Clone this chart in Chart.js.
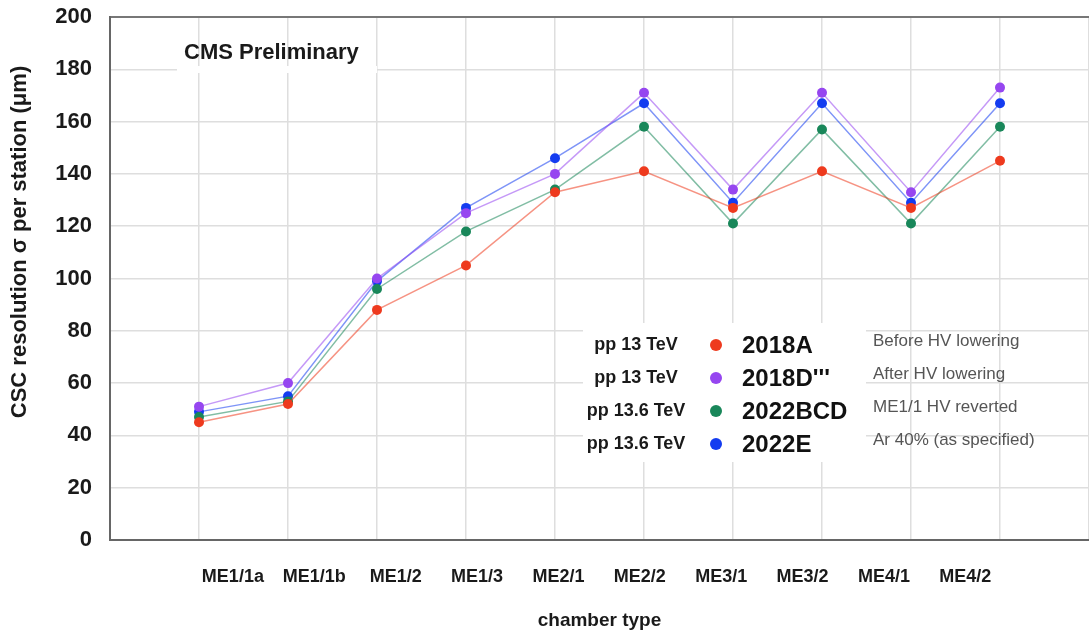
<!DOCTYPE html>
<html>
<head>
<meta charset="utf-8">
<script src="https://cdn.jsdelivr.net/npm/chart.js@4/dist/chart.umd.min.js"></script>
<style>
  html, body { margin: 0; padding: 0; background: #fff; }
  canvas { display: block; }
</style>
</head>
<body>
<canvas id="chart" width="1089" height="632"></canvas>
<script>
// Chamber types along the horizontal axis
const chambers = ['ME1/1a', 'ME1/1b', 'ME1/2', 'ME1/3', 'ME2/1', 'ME2/2', 'ME3/1', 'ME3/2', 'ME4/1', 'ME4/2'];

// CSC resolution per station (μm) for each run period
const res2018A   = [45, 52, 88, 105, 133, 141, 127, 141, 127, 145];
const res2018D   = [51, 60, 100, 125, 140, 171, 134, 171, 133, 173];
const res2022BCD = [47, 53, 96, 118, 134, 158, 121, 157, 121, 158];
const res2022E   = [49, 55, 99, 127, 146, 167, 129, 167, 129, 167];

const runNames = ['2018A', "2018D'''", '2022BCD', '2022E'];
const energies = ['pp 13 TeV', 'pp 13 TeV', 'pp 13.6 TeV', 'pp 13.6 TeV'];
const notes    = ['Before HV lowering', 'After HV lowering', 'ME1/1 HV reverted', 'Ar 40% (as specified)'];
const runColors = ['#ee3a1e', '#9646f0', '#19875a', '#143cf0'];

// Vertical axis range and step
const yMin = 0, yMax = 200, yStep = 20;

const FONT = '"Liberation Sans", Arial, Helvetica, sans-serif';
const series = [res2018A, res2018D, res2022BCD, res2022E];

const datasets = series.map((vals, k) => ({
  label: runNames[k],
  data: vals.map((v, i) => ({ x: i, y: v })),
  borderColor: runColors[k] + '8c',
  borderWidth: 1.5,
  backgroundColor: runColors[k],
  pointBackgroundColor: runColors[k],
  pointBorderWidth: 0,
  pointRadius: 5,
  tension: 0,
  fill: false
}));

// Background strips, legend block, headline and vertical title
const decorations = {
  id: 'decorations',
  beforeDatasetsDraw(chart) {
    const { ctx, chartArea: ca } = chart;
    ctx.save();
    ctx.fillStyle = '#ffffff';
    // strip behind the headline
    ctx.fillRect(ca.left + 67, ca.top + 49, 200, 7);
    // block behind the left part of the legend
    ctx.fillRect(ca.left + 473, ca.top + 306, 283, 139);
    ctx.restore();
  },
  afterDraw(chart) {
    const { ctx, chartArea: ca } = chart;
    ctx.save();

    // headline
    ctx.fillStyle = '#1a1a1a';
    ctx.font = 'bold 22px ' + FONT;
    ctx.textAlign = 'left';
    ctx.textBaseline = 'middle';
    ctx.fillText('CMS Preliminary', ca.left + 74, ca.top + 36);

    // legend rows
    const rowY = [328, 361, 394, 427];
    runNames.forEach((name, k) => {
      const y = ca.top + rowY[k];
      ctx.fillStyle = '#1a1a1a';
      ctx.font = 'bold 18px ' + FONT;
      ctx.textAlign = 'center';
      ctx.fillText(energies[k], ca.left + 526, y);

      ctx.fillStyle = runColors[k];
      ctx.beginPath();
      ctx.arc(ca.left + 606, y, 6, 0, Math.PI * 2);
      ctx.fill();

      ctx.fillStyle = '#111';
      ctx.font = 'bold 24px ' + FONT;
      ctx.textAlign = 'left';
      ctx.fillText(name, ca.left + 632, y + 1);

      ctx.fillStyle = '#555';
      ctx.font = '17px ' + FONT;
      ctx.fillText(notes[k], ca.left + 763, y - 4);
    });

    // vertical axis title
    ctx.translate(20, 242);
    ctx.rotate(-Math.PI / 2);
    ctx.fillStyle = '#1a1a1a';
    ctx.font = 'bold 22px ' + FONT;
    ctx.textAlign = 'center';
    ctx.textBaseline = 'middle';
    ctx.fillText('CSC resolution σ per station (μm)', 0, 0);
    ctx.restore();
  }
};

function noSidePadding(scale) {
  scale.paddingLeft = 0;
  scale.paddingRight = 0;
}

new Chart(document.getElementById('chart'), {
  type: 'line',
  data: { datasets },
  options: {
    responsive: false,
    animation: false,
    devicePixelRatio: 1,
    layout: { autoPadding: false, padding: { top: 17, right: 0, left: 0, bottom: 0 } },
    plugins: {
      legend: { display: false },
      tooltip: { enabled: false },
      title: { display: false }
    },
    events: [],
    scales: {
      x: {
        type: 'linear',
        position: 'bottom',
        min: -1,
        max: chambers.length,
        afterFit: noSidePadding,
        ticks: { display: false, stepSize: 1 },
        grid: { color: '#dedede', lineWidth: 1.5, drawTicks: false },
        border: { color: '#666', width: 2 }
      },
      xLabels: {
        type: 'linear',
        position: 'bottom',
        min: -1.51,
        max: 10.52,
        afterBuildTicks(scale) {
          scale.ticks = chambers.map((_, i) => ({ value: i }));
        },
        afterFit(scale) { scale.height = 92; noSidePadding(scale); },
        ticks: {
          autoSkip: false,
          maxRotation: 0,
          padding: 26,
          color: '#1a1a1a',
          font: { family: FONT, size: 18, weight: 'bold' },
          callback: (v) => chambers[v] ?? ''
        },
        grid: { display: false, drawTicks: false },
        border: { display: false },
        title: {
          display: true,
          text: 'chamber type',
          color: '#1a1a1a',
          font: { family: FONT, size: 19, weight: 'bold' },
          padding: { top: 0, bottom: 0 }
        }
      },
      y: {
        min: yMin,
        max: yMax,
        afterFit(scale) {
          scale.width = 110;
          scale.paddingTop = 0;
          scale.paddingBottom = 0;
        },
        ticks: {
          stepSize: yStep,
          padding: 18,
          color: '#1a1a1a',
          font: { family: FONT, size: 22, weight: 'bold' }
        },
        grid: {
          drawTicks: false,
          lineWidth: (c) => (c.tick && c.tick.value === yMax ? 2 : 1.5),
          color: (c) => (c.tick && c.tick.value === yMax ? '#777' : '#dedede')
        },
        border: { color: '#666', width: 2 }
      }
    }
  },
  plugins: [decorations]
});
</script>
</body>
</html>
